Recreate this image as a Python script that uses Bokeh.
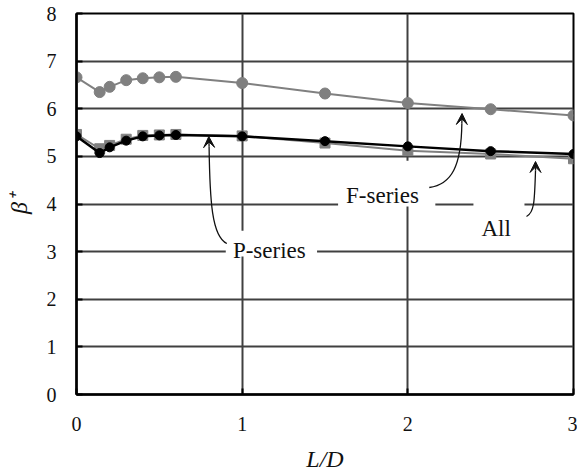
from bokeh.plotting import figure
from bokeh.models import Arrow, VeeHead, Label, FixedTicker
from bokeh.embed import file_html
from bokeh.resources import INLINE

# ---- data ----
ld = [0, 0.14, 0.2, 0.3, 0.4, 0.5, 0.6, 1.0, 1.5, 2.0, 2.5, 3.0]
f_series = [6.66, 6.35, 6.46, 6.60, 6.64, 6.66, 6.67, 6.54, 6.32, 6.12, 5.99, 5.86]
all_series = [5.46, 5.16, 5.23, 5.36, 5.44, 5.45, 5.46, 5.43, 5.28, 5.12, 5.05, 4.95]
p_series = [5.42, 5.07, 5.19, 5.33, 5.42, 5.44, 5.45, 5.42, 5.32, 5.21, 5.11, 5.05]
x_ticks = [0, 1, 2, 3]
y_ticks = [0, 1, 2, 3, 4, 5, 6, 7, 8]

SERIF = "Liberation Serif"
GRID = "#404040"

p = figure(width=577, height=474, x_range=(0, 3), y_range=(0, 8),
           output_backend="svg", toolbar_location=None,
           min_border_left=76, min_border_right=4, min_border_top=13, min_border_bottom=80)
p.background_fill_color = "white"
p.border_fill_color = "white"
p.outline_line_color = "black"
p.outline_line_width = 2

p.xaxis.ticker = FixedTicker(ticks=x_ticks)
p.yaxis.ticker = FixedTicker(ticks=y_ticks)
for ax in (p.xaxis, p.yaxis):
    ax.axis_line_color = "black"
    ax.axis_line_width = 2.5
    ax.major_tick_in = 6
    ax.major_tick_out = 0
    ax.major_tick_line_color = "black"
    ax.major_tick_line_width = 2
    ax.minor_tick_line_color = None
    ax.major_label_text_font = SERIF
    ax.major_label_text_font_size = "20px"
    ax.major_label_text_color = "#111111"
p.xaxis.major_label_standoff = 22
p.yaxis.major_label_standoff = 20

p.xaxis.axis_label = "L/D"
p.xaxis.axis_label_text_font = SERIF
p.xaxis.axis_label_text_font_style = "italic"
p.xaxis.axis_label_text_font_size = "24px"
p.xaxis.axis_label_text_color = "#111111"
p.xaxis.axis_label_standoff = 12

p.yaxis.axis_label = "β⁺"
p.yaxis.axis_label_text_font = SERIF
p.yaxis.axis_label_text_font_style = "italic"
p.yaxis.axis_label_text_font_size = "24px"
p.yaxis.axis_label_text_color = "#111111"
p.yaxis.axis_label_standoff = 12

p.xgrid.grid_line_color = GRID
p.xgrid.grid_line_width = 2
p.ygrid.grid_line_color = GRID
p.ygrid.grid_line_width = 2

# white boxes behind annotation texts (cover gridlines)
p.quad(left=[0.901, 1.579, 2.396], right=[1.452, 2.166, 2.704],
       bottom=[2.90, 3.95, 3.13], top=[3.44, 4.91, 4.18],
       fill_color="white", line_color=None)

# series
p.line(ld, f_series, line_color="#808080", line_width=2)
p.scatter(ld, f_series, marker="circle", size=11, fill_color="#808080", line_color="#808080")
p.line(ld, all_series, line_color="#808080", line_width=2)
p.scatter(ld, all_series, marker="square", size=10, fill_color="#808080", line_color="#808080")
p.line(ld, p_series, line_color="black", line_width=2.5)
p.scatter(ld, p_series, marker="circle", size=9, fill_color="black", line_color="black")

# annotation texts
def lab(x, y, t):
    p.add_layout(Label(x=x, y=y, text=t, text_font=SERIF, text_font_size="23px",
                       text_color="#111111", text_align="left", text_baseline="alphabetic"))
lab(0.944, 3.02, "P-series")
lab(1.627, 4.18, "F-series")
lab(2.444, 3.49, "All")

# curved arrows
def px2x(px):
    return (px - 76) / 165.3
def px2y(py):
    return (394 - py) / 47.625

curves = [
    # (start, cp0, cp1, end, tip)
    ((226, 243), (211, 236), (209, 200), (208.3, 146), (208, 136)),
    ((428, 187), (450, 184), (460, 166), (460.5, 123), (460.7, 113)),
    ((525, 216), (533, 212), (533, 200), (534, 170), (534, 161)),
]
for s, c0, c1, e, t in curves:
    p.bezier(x0=[px2x(s[0])], y0=[px2y(s[1])], x1=[px2x(e[0])], y1=[px2y(e[1])],
             cx0=[px2x(c0[0])], cy0=[px2y(c0[1])], cx1=[px2x(c1[0])], cy1=[px2y(c1[1])],
             line_color="#111111", line_width=1.3)
    p.add_layout(Arrow(end=VeeHead(size=11, fill_color="#111111", line_color="#111111", line_width=1),
                       x_start=px2x(e[0]), y_start=px2y(e[1]), x_end=px2x(t[0]), y_end=px2y(t[1]),
                       line_color="#111111", line_width=1.3))

open("out.html", "w").write(file_html(p, INLINE))
